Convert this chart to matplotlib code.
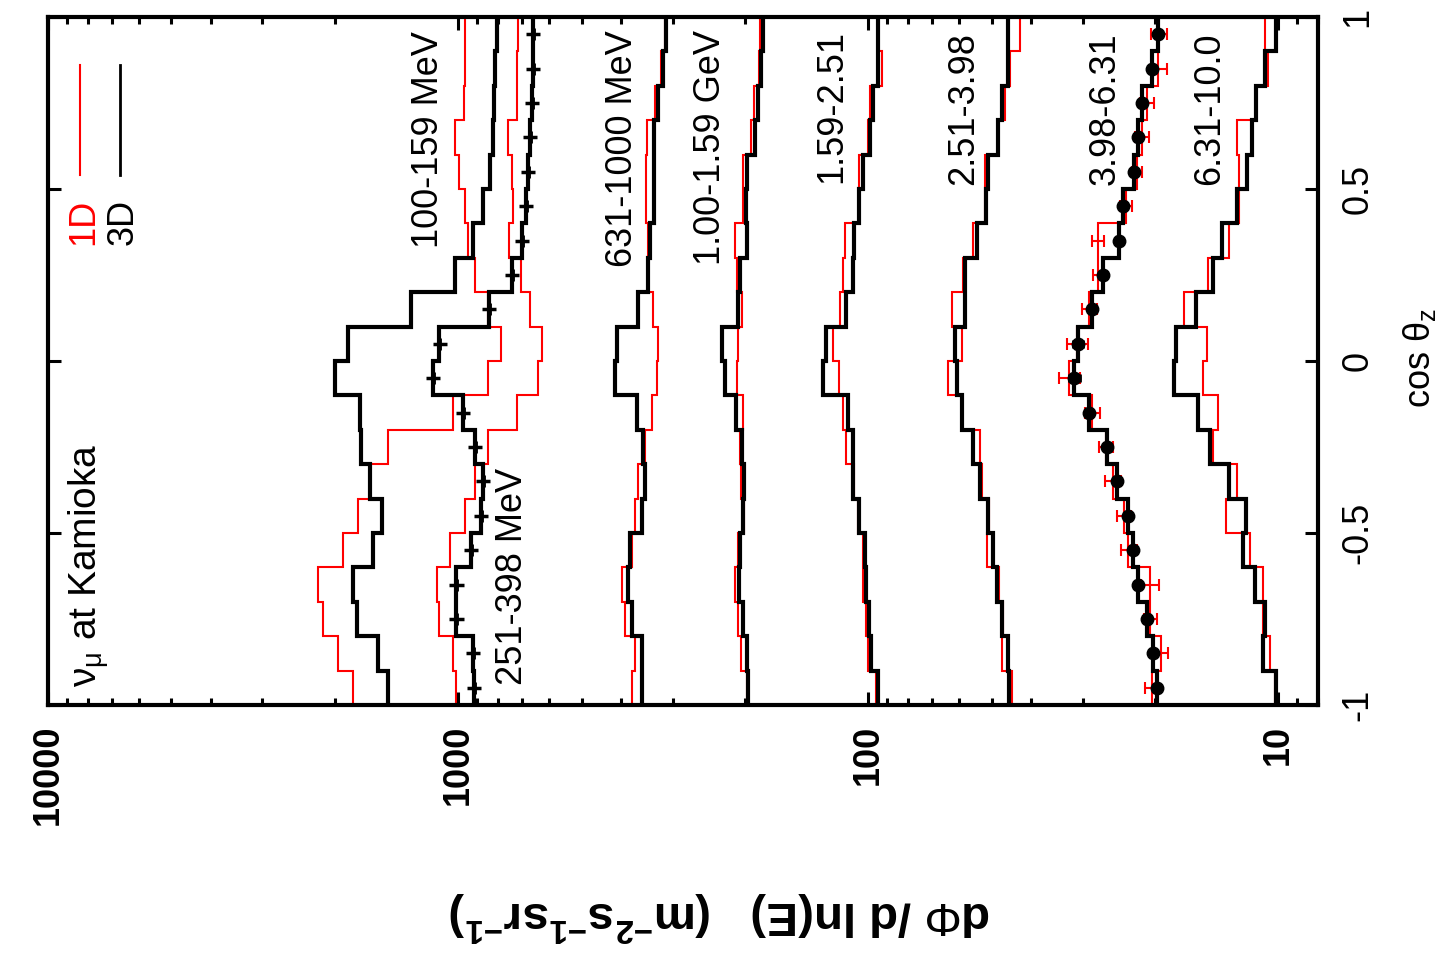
from matplotlib import pyplot as plt
from matplotlib.ticker import LogLocator, NullFormatter
import numpy as np

plt.rcParams['font.family'] = ['Liberation Sans', 'DejaVu Sans']
plt.rcParams['mathtext.fontset'] = 'custom'
plt.rcParams['mathtext.rm'] = 'Liberation Sans'
plt.rcParams['mathtext.it'] = 'Liberation Sans'
plt.rcParams['mathtext.bf'] = 'Liberation Sans:bold'

# cos(theta_z) bin edges (20 bins)
cos_edges = [-1.0, -0.9, -0.8, -0.7, -0.6, -0.5, -0.4, -0.3, -0.2, -0.1, 0.0,
             0.1, 0.2, 0.3, 0.4, 0.5, 0.6, 0.7, 0.8, 0.9, 1.0]

energy_labels = ['100-159 MeV', '251-398 MeV', '631-1000 MeV', '1.00-1.59 GeV',
                 '1.59-2.51', '2.51-3.98', '3.98-6.31', '6.31-10.0']

# dPhi/dlnE (m^-2 s^-1 sr^-1) per bin, from cos=-1 up to cos=+1
flux_1d_100 = [1800, 1960, 2130, 2200, 1910, 1750, 1640, 1480, 1030, 845,
               785, 845, 909, 945, 961, 994, 1020, 967, 961, 961]
flux_3d_100 = [1480, 1570, 1760, 1800, 1610, 1530, 1640, 1720, 1730, 2000,
               1860, 1300, 1020, 919, 869, 836, 822, 817, 812, 803]
flux_1d_251 = [1010, 1030, 1110, 1125, 1046, 961, 909, 845, 718, 638,
               624, 667, 702, 751, 734, 738, 755, 718, 718, 714]
flux_3d_251 = [914, 919, 1010, 1010, 930, 879, 869, 909, 972, 1150,
               1110, 840, 738, 698, 683, 675, 667, 660, 656, 656]
flux_1d_631 = [376, 370, 392, 398, 376, 370, 364, 350, 336, 327,
               325, 334, 344, 344, 348, 348, 346, 331, 320, 313]
flux_3d_631 = [356, 356, 376, 385, 381, 356, 350, 354, 366, 414,
               410, 364, 344, 340, 333, 333, 333, 325, 316, 311]
flux_1d_1000 = [197, 204, 208, 211, 208, 201, 204, 205, 202, 209,
                208, 203, 209, 211, 202, 202, 193, 190, 185, 184]
flux_3d_1000 = [196, 197, 202, 206, 205, 202, 201, 203, 210, 223,
                227, 208, 205, 198, 199, 197, 189, 186, 183, 181]
flux_1d_1590 = [95.6, 100, 101, 103, 103, 106, 108, 113, 115, 118,
                122, 117, 115, 114, 105, 105, 100, 98.9, 92.4, 94.5]
flux_3d_1590 = [94.5, 98.3, 99.4, 101, 102, 105, 109, 109, 112, 129,
                127, 113, 109, 108, 105, 103, 98.9, 97.2, 94.5, 94.5]
flux_1d_2510 = [44.5, 47.1, 46.9, 47.9, 51.3, 50.7, 52.7, 53.3, 59.0, 63.8,
                59.0, 62.4, 58.7, 55.5, 51.8, 51.8, 48.2, 46.3, 45.1, 42.6]
flux_3d_2510 = [45.3, 45.6, 47.1, 48.5, 49.6, 51.0, 53.3, 55.5, 59.0, 60.7,
                61.4, 58.0, 58.0, 54.2, 51.6, 51.0, 48.2, 47.1, 45.6, 45.6]
flux_1d_3980 = [20.3, 19.3, 20.5, 20.6, 23.2, 23.8, 25.3, 26.3, 28.4, 32.3,
                30.9, 28.9, 27.5, 27.5, 23.5, 22.1, 21.5, 20.9, 19.6, 19.6]
flux_3d_3980 = [19.8, 20.2, 20.9, 22.0, 22.6, 23.3, 24.7, 26.1, 28.9, 31.4,
                30.8, 28.4, 26.7, 24.4, 23.9, 22.5, 22.0, 21.5, 20.3, 19.6]
flux_1d_6310 = [10.2, 10.5, 10.9, 10.9, 11.7, 13.4, 12.6, 14.4, 14.0, 15.3,
                14.9, 17.0, 14.8, 13.2, 12.5, 12.5, 12.6, 11.3, 10.6, 10.8]
flux_3d_6310 = [10.1, 10.9, 10.8, 11.4, 12.2, 12.0, 13.2, 14.7, 15.7, 18.0,
                17.8, 15.9, 14.4, 13.7, 12.6, 11.9, 11.6, 11.3, 10.8, 10.1]

# statistical errors (percent) on the points drawn in two energy bins
err_3d_251 = [4, 4, 4, 4, 4, 4, 4, 4, 4, 4, 4, 4, 4, 4, 4, 4, 4, 4, 4, 4]
err_1d_3980 = [4, 3.5, 3.5, 5, 4.5, 4, 4.5, 4, 4, 6,
               6, 4, 3, 3.5, 3.5, 3, 4, 4, 4.5, 4.5]
err_3d_3980 = [2, 2, 2, 2, 2, 2, 2, 2, 2, 3,
               3, 2, 2, 2, 2, 2, 2, 2, 2, 2]

flux_1d = [flux_1d_100, flux_1d_251, flux_1d_631, flux_1d_1000,
           flux_1d_1590, flux_1d_2510, flux_1d_3980, flux_1d_6310]
flux_3d = [flux_3d_100, flux_3d_251, flux_3d_631, flux_3d_1000,
           flux_3d_1590, flux_3d_2510, flux_3d_3980, flux_3d_6310]

# where the energy-bin labels sit (text start on baseline)
label_x = [1119, 698, 376, 230, 116, 55.5, 25.0, 13.9]
label_y = [0.328, -0.942, 0.273, 0.279, 0.517, 0.512, 0.512, 0.512]


def rel_err(vals, pct):
    return [v * p / 100.0 for v, p in zip(vals, pct)]


def main():
    fig = plt.figure(figsize=(14.45, 9.58), dpi=100)
    ax = fig.add_axes([48 / 1445, 1 - 705 / 958, 1270 / 1445, 688 / 958])
    ax.set_xscale('log')

    centers = [(a + b) / 2 for a, b in zip(cos_edges[:-1], cos_edges[1:])]

    for f in flux_1d:
        ax.stairs(f, cos_edges, orientation='horizontal', baseline=None,
                  color='red', lw=1.5)
    ax.errorbar(flux_1d_3980, centers, xerr=rel_err(flux_1d_3980, err_1d_3980),
                fmt='none', ecolor='red', elinewidth=1.5, capsize=4.5, capthick=1.5)
    for f in flux_3d:
        ax.stairs(f, cos_edges, orientation='horizontal', baseline=None,
                  color='black', lw=3.0)

    ax.errorbar(flux_3d_251, centers, xerr=rel_err(flux_3d_251, err_3d_251),
                fmt='|', color='black', ms=9, mew=3.5, elinewidth=2.5, capsize=0)
    ax.errorbar(flux_3d_3980, centers, xerr=rel_err(flux_3d_3980, err_3d_3980),
                fmt='o', color='black', ms=9, elinewidth=2, capsize=3, capthick=2)

    for lab, x, y in zip(energy_labels, label_x, label_y):
        ax.text(x, y, lab, rotation=90, rotation_mode='anchor', ha='left',
                va='baseline', fontsize=26)

    ax.text(7551, -0.948, r'$\nu_\mu$ at Kamioka', rotation=90,
            rotation_mode='anchor', ha='left', va='baseline', fontsize=28)

    # key
    ax.text(7765, 0.337, '1D', color='red', rotation=90, rotation_mode='anchor',
            ha='left', va='baseline', fontsize=26)
    ax.text(6205, 0.337, '3D', color='black', rotation=90, rotation_mode='anchor',
            ha='left', va='baseline', fontsize=26)
    ax.plot([0.0252, 0.0252], [0.770, 0.930], color='red', lw=1.5,
            transform=ax.transAxes)
    ax.plot([0.0567, 0.0567], [0.770, 0.930], color='black', lw=2,
            transform=ax.transAxes)

    ax.set_xlim(10000, 8)
    ax.set_ylim(-1, 1)

    ax.set_xticks([10000, 1000, 100, 10])
    ax.set_xticklabels(['10000', '1000', '100', '10'], fontsize=26,
                       fontweight='bold', rotation=90)
    ax.xaxis.set_minor_locator(LogLocator(base=10, subs=np.arange(2, 10)))
    ax.xaxis.set_minor_formatter(NullFormatter())

    ax.set_yticks([-1, -0.5, 0, 0.5, 1])
    ax.set_yticklabels(['-1', '-0.5', '0', '0.5', '1'], fontsize=26,
                       rotation=90, va='center')
    ax.yaxis.tick_right()

    ax.tick_params(which='both', direction='in', top=True, bottom=True,
                   left=True, right=True, width=2.2)
    ax.tick_params(which='major', length=9.5)
    ax.tick_params(which='minor', length=5)
    ax.tick_params(axis='x', pad=14)
    ax.tick_params(axis='y', pad=16, labelleft=False, labelright=True)

    for s in ax.spines.values():
        s.set_linewidth(3)

    fig.text(1420 / 1445, 1 - 358 / 958, r'cos $\theta_z$', rotation=90,
             ha='center', va='center', fontsize=26)
    fig.text(720 / 1445, 1 - 916 / 958,
             r'd$\Phi$ /d ln(E)   (m$^{\mathbf{-2}}$s$^{\mathbf{-1}}$sr$^{\mathbf{-1}}$)',
             rotation=180, ha='center', va='center', fontsize=34,
             fontweight='bold')

    fig.savefig('out.png', dpi=100)


if __name__ == "__main__":
    main()
